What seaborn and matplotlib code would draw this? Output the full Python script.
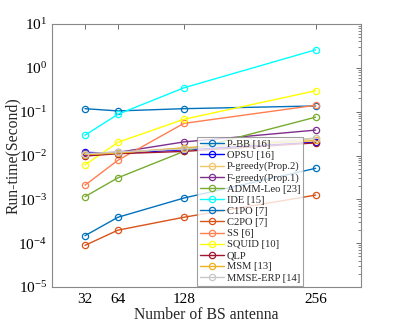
import numpy as np
import pandas as pd
import matplotlib
matplotlib.use("Agg")
import matplotlib.pyplot as plt
import seaborn as sns
from matplotlib.ticker import LogLocator, NullFormatter

sns.set_style("white")
plt.rcParams['font.family'] = ['Liberation Serif', 'DejaVu Serif']
plt.rcParams['mathtext.fontset'] = 'stix'

antennas = [32, 64, 128, 256]
labels = ["P-BB [16]", "OPSU [16]", "P-greedy(Prop.2)", "F-greedy(Prop.1)",
          "ADMM-Leo [23]", "IDE [15]", "C1PO [7]", "C2PO [7]", "SS [6]",
          "SQUID [10]", "QLP", "MSM [13]", "MMSE-ERP [14]"]
p_bb = [0.117, 0.104, 0.117, 0.135]
opsu = [0.0118, 0.0112, 0.0135, 0.020]
p_greedy = [0.0108, 0.0115, 0.0150, 0.0245]
f_greedy = [0.0112, 0.0118, 0.0204, 0.038]
admm_leo = [0.00115, 0.0031, 0.0124, 0.075]
ide = [0.029, 0.087, 0.35, 2.58]
c1po = [0.000148, 0.00039, 0.00107, 0.0051]
c2po = [0.000089, 0.000198, 0.00039, 0.00125]
ss = [0.0021, 0.0078, 0.054, 0.14]
squid = [0.0061, 0.020, 0.067, 0.30]
qlp = [0.0097, 0.0110, 0.0124, 0.0194]
msm = [0.0105, 0.0114, 0.0148, 0.022]
mmse_erp = [0.0110, 0.0121, 0.0140, 0.025]
series = [p_bb, opsu, p_greedy, f_greedy, admm_leo, ide, c1po, c2po, ss,
          squid, qlp, msm, mmse_erp]
colors = ["#0072BD", "#0000FF", "#F2C46A", "#7E2F8E", "#77AC30", "#00FFFF",
          "#0072BD", "#D95319", "#FF7F50", "#FFFF00", "#A2142F", "#EDB120",
          "#C8C8C8"]

fig = plt.figure(figsize=(3.99, 3.23), dpi=100)
ax = fig.add_axes([52/399, 1-287/323, 309/399, 263/323])

for lab, vals, col in zip(labels, series, colors):
    df = pd.DataFrame({"N": antennas, "t": vals})
    sns.lineplot(data=df, x="N", y="t", ax=ax, color=col, label=lab,
                 marker="o", markersize=4.5, mfc="none", mec=col, mew=0.9,
                 linewidth=1.0)

ax.set_yscale("log")
ax.set_ylim(1e-5, 10)
ax.set_xlim(0, 300)
ax.set_xticks(antennas)
ax.set_xticklabels([str(a) for a in antennas])
ax.yaxis.set_major_locator(LogLocator(base=10, numticks=10))
ax.yaxis.set_minor_locator(LogLocator(base=10, subs=np.arange(2, 10), numticks=20))
ax.yaxis.set_minor_formatter(NullFormatter())
ax.tick_params(axis="both", which="both", direction="in", top=True, right=True,
               labelsize=11, colors="#555555", labelcolor="black")
ax.tick_params(axis="x", which="major", pad=4.5)
ax.tick_params(which="major", length=3.5, width=0.6)
ax.tick_params(which="minor", length=2, width=0.5)
for sp in ax.spines.values():
    sp.set_color("#888888")
    sp.set_linewidth(0.8)

ax.set_xlabel("Number of BS antenna", fontsize=11.3)
ax.set_ylabel("Run-time(Second)", fontsize=11.3)
ax.xaxis.set_label_coords(0.5, -0.076)
ax.yaxis.set_label_coords(-0.099, 0.5)

leg = ax.legend(loc="lower left", bbox_to_anchor=(0.47, 0.005), fontsize=7.6,
                frameon=True, fancybox=False, borderpad=0.3, labelspacing=0.16,
                handlelength=2.2, handletextpad=0.3, borderaxespad=0)
leg.get_frame().set_edgecolor("#888888")
leg.get_frame().set_linewidth(0.8)

fig.savefig("out.png", dpi=100)
